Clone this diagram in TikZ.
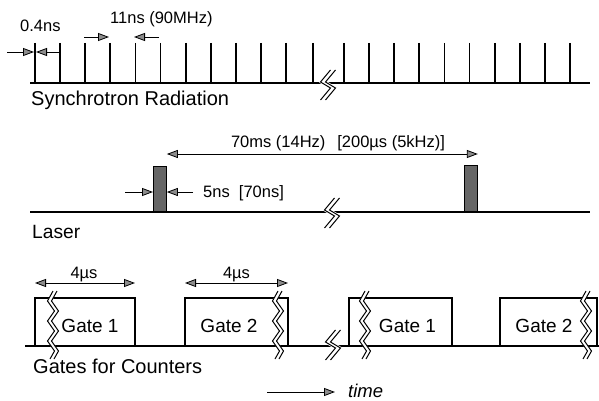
\documentclass[tikz,border=0pt]{standalone}
\usepackage{fontspec}
\setmainfont{Liberation Sans}
\usetikzlibrary{arrows.meta,calc}
\tikzset{
  baseline/.style={line width=1.2pt},
  pulsetick/.style={line width=1.8pt},
  dimarrow/.style={
    line width=0.8pt,
    -{Triangle[length=11pt,width=8pt,fill=black!45]}
  },
  dimboth/.style={
    line width=0.8pt,
    {Triangle[length=11pt,width=8pt,fill=black!45]}-{Triangle[length=11pt,width=8pt,fill=black!45]}
  },
  laserpulse/.style={draw, line width=0.8pt, fill=black!60},
  gatebox/.style={draw, line width=1.4pt},
  zig/.style={line width=1pt, line join=miter},
  bigtext/.style={font=\fontsize{20}{24}\selectfont, inner sep=0pt},
  smalltext/.style={font=\fontsize{16.5}{20}\selectfont, inner sep=0pt},
  every picture/.style={x=1pt, y=-1pt}
}
% short break on a time axis
\newcommand{\axisbreak}[2]{%
  \begin{scope}[shift={(#1,#2)}]
    \draw[white, line width=5pt] (5,-15) -- (-5,-3) -- (5,3) -- (-5,15);
    \draw[zig, xshift=-2.5pt] (5,-15) -- (-5,-3) -- (5,3) -- (-5,15);
    \draw[zig, xshift=2.5pt] (5,-15) -- (-5,-3) -- (5,3) -- (-5,15);
  \end{scope}}
% long break through a gate
\newcommand{\gatebreak}[1]{%
  \begin{scope}[shift={(#1,0)}]
    \draw[white, line width=4pt] (2,291) -- (-3.5,301) -- (3.5,311) -- (-3.5,321) -- (3.5,331) -- (-3.5,341) -- (3.5,351) -- (-1,359);
    \draw[zig, xshift=-2pt] (2,291) -- (-3.5,301) -- (3.5,311) -- (-3.5,321) -- (3.5,331) -- (-3.5,341) -- (3.5,351) -- (-1,359);
    \draw[zig, xshift=2pt] (2,291) -- (-3.5,301) -- (3.5,311) -- (-3.5,321) -- (3.5,331) -- (-3.5,341) -- (3.5,351) -- (-1,359);
  \end{scope}}

\begin{document}
\begin{tikzpicture}
  \useasboundingbox (0,0) rectangle (599,401);

  % synchrotron radiation
  \draw[baseline] (30,83) -- (590,83);
  \foreach \i in {0,...,10}
    \draw[pulsetick] ({35+25.1*\i},43) -- ({35+25.1*\i},83);
  \draw[pulsetick] (313,43) -- (313,83);
  \foreach \i in {0,...,9}
    \draw[pulsetick] ({344+25.1*\i},43) -- ({344+25.1*\i},83);
  \axisbreak{328}{85}
  \coordinate (wl) at (7,52);
  \coordinate (wr) at (60,52);
  \draw[dimarrow] (wl) -- (34,52);
  \draw[dimarrow] (wr) -- (36,52);
  \node[smalltext, anchor=base west] (width) at (20,31.5) {0.4ns};
  \coordinate (pl) at (84,37);
  \coordinate (pr) at (159,37);
  \draw[dimarrow] (pl) -- (109,37);
  \draw[dimarrow] (pr) -- (134,37);
  \node[smalltext, anchor=base west] (period) at (110,24) {11ns (90MHz)};
  \node[bigtext, anchor=base west] (sync) at (31,106) {Synchrotron Radiation};

  % laser
  \draw[baseline] (30,212) -- (590,212);
  \node[laserpulse, minimum width=13pt, minimum height=45pt, anchor=south west, inner sep=0pt] (p1) at (153,212) {};
  \node[laserpulse, minimum width=13pt, minimum height=46pt, anchor=south west, inner sep=0pt] (p2) at (464,212) {};
  \axisbreak{332}{213}
  \draw[dimboth] (p1.east |- 0,154) -- (p2.east |- 0,154);
  \node[smalltext, anchor=base] (rep) at (338,147) {70ms (14Hz)\ \ \,[200µs (5kHz)]};
  \draw[dimarrow] (125,192) -- (p1.west |- 0,192);
  \draw[dimarrow] (193,192) -- (p1.east |- 0,192);
  \node[smalltext, anchor=base west] (plen) at (203,197.5) {5ns\ \ [70ns]};
  \node[bigtext, anchor=base west, font=\fontsize{19.2}{22}\selectfont] (laser) at (32,238) {Laser};

  % gates for counters
  \draw[baseline] (25,346) -- (599,346);
  \draw[gatebox] (35,346) |- (135,298) -- (135,346);
  \draw[gatebox] (185,346) |- (288,298) -- (288,346);
  \draw[gatebox] (349,346) |- (452,298) -- (452,346);
  \draw[gatebox] (500,346) |- (597,298) -- (597,346);
  \gatebreak{53}
  \gatebreak{278}
  \gatebreak{365}
  \gatebreak{586}
  \axisbreak{333}{345}
  \node[bigtext, anchor=base, font=\fontsize{19}{22}\selectfont] (g1) at (90,332) {Gate 1};
  \node[bigtext, anchor=base, font=\fontsize{19}{22}\selectfont] (g2) at (229,332) {Gate 2};
  \node[bigtext, anchor=base, font=\fontsize{19}{22}\selectfont] (g3) at (407.5,332) {Gate 1};
  \node[bigtext, anchor=base, font=\fontsize{19}{22}\selectfont] (g4) at (544,332) {Gate 2};
  \draw[dimboth] (35,283) -- (135,283);
  \draw[dimboth] (185,283) -- (288,283);
  \node[smalltext, anchor=base] (w1) at (84,278) {4µs};
  \node[smalltext, anchor=base] (w2) at (236.5,278) {4µs};
  \node[bigtext, anchor=base west] (gates) at (33,373) {Gates for Counters};

  % time axis
  \node[bigtext, anchor=base west, font=\fontsize{18.5}{24}\selectfont\itshape] (time) at (348,397) {time};
  \draw[dimarrow] (267,392) -- (335,392);
\end{tikzpicture}
\end{document}
